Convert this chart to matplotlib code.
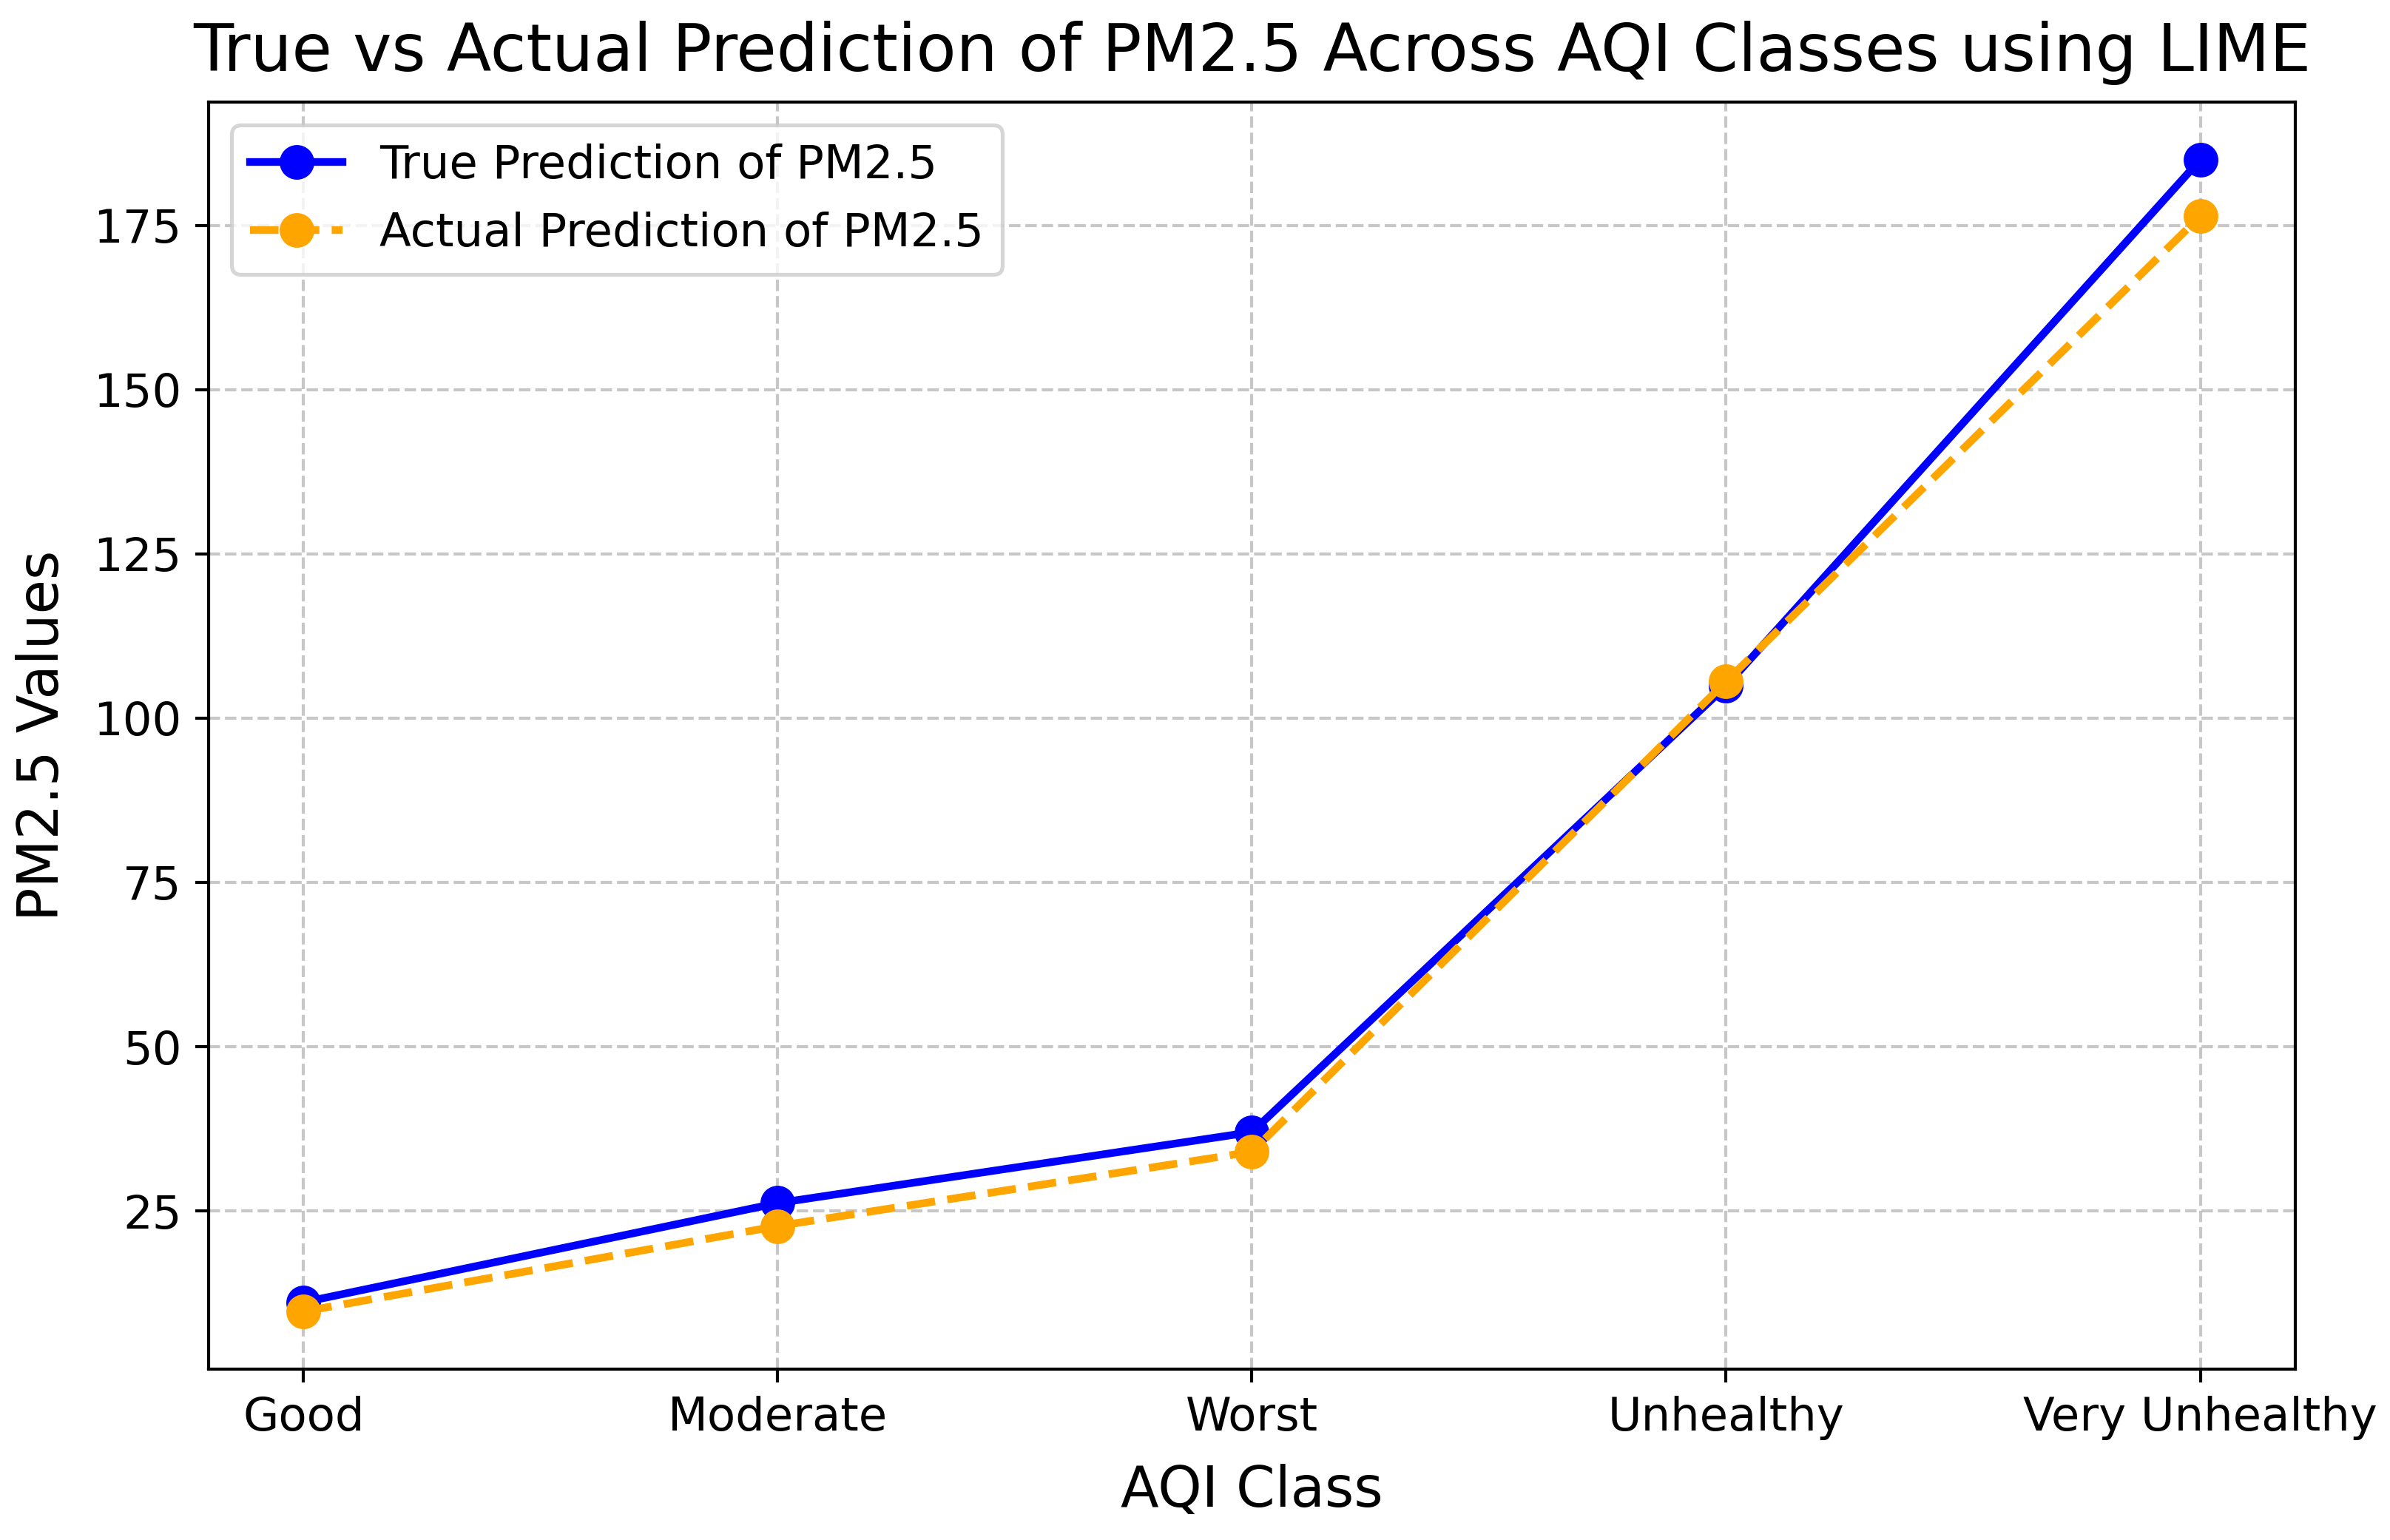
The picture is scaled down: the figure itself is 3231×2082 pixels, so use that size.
import matplotlib
matplotlib.use("Agg")
from matplotlib import pyplot as plt

## Data ##
AQI_CLASSES = ["Good", "Moderate", "Worst", "Unhealthy", "Very Unhealthy"]
TRUE_PM25 = [11.1, 26.2, 37.0, 104.9, 185.0]
ACTUAL_PM25 = [9.7, 22.7, 34.0, 105.6, 176.4]

DPI = 375
fig = plt.figure(figsize=(3232 / DPI, 2082 / DPI), dpi=DPI)
ax = fig.add_subplot(111)
fig.subplots_adjust(left=0.0873, right=0.960, top=0.9337, bottom=0.111)

ax.plot(AQI_CLASSES, TRUE_PM25, marker="o", linestyle="-", color="blue",
        linewidth=2, markersize=8, label="True Prediction of PM2.5")
ax.plot(AQI_CLASSES, ACTUAL_PM25, marker="o", linestyle="--", color="orange",
        linewidth=2, markersize=8, label="Actual Prediction of PM2.5")

ax.set_title("True vs Actual Prediction of PM2.5 Across AQI Classes using LIME",
             fontsize=17, pad=8)
ax.set_xlabel("AQI Class", fontsize=14.5, labelpad=6)
ax.set_ylabel("PM2.5 Values", fontsize=14.5, labelpad=6)
ax.tick_params(labelsize=12)
ax.legend(fontsize=12, loc="upper left")
ax.grid(True, linestyle="--", alpha=0.7)

fig.savefig("out.png", dpi=DPI)
